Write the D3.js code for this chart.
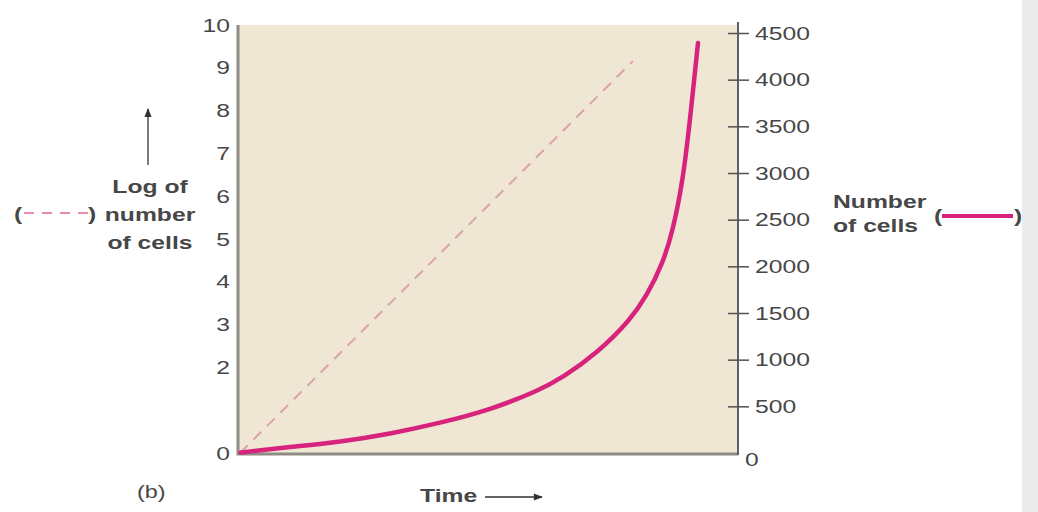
<!DOCTYPE html>
<html>
<head>
<meta charset="utf-8">
<script src="https://cdn.jsdelivr.net/npm/d3@7"></script>
<style>
  body { margin: 0; background: #fff; }
  text { font-family: "Liberation Sans", Arial, sans-serif; fill: #474747; }
</style>
</head>
<body>
<script>
// left axis ticks (log of number of cells) - "1" is not labelled in the figure
var logTicks = [0, 2, 3, 4, 5, 6, 7, 8, 9, 10];
// right axis ticks (number of cells)
var countTicks = [0, 500, 1000, 1500, 2000, 2500, 3000, 3500, 4000, 4500];

// dashed line: log of number of cells vs time
var logTime = [0.04, 7.9];
var logValue = [0, 9.16];

// solid curve: number of cells vs time
var countTime = [0.05, 1.04, 2.04, 3.04, 4.04, 5.04, 6.04, 6.5, 7.18, 7.84, 8.18, 8.5, 8.7, 8.9, 9.04, 9.2];
var countValue = [5, 64, 118, 204, 321, 461, 675, 810, 1070, 1420, 1690, 2036, 2389, 2925, 3568, 4393];

var W = 1038, H = 512;
var plotL = 238, plotR = 738, plotT = 25, plotB = 453;
var SX = 1.3; // the figure's lettering is stretched sideways

var svg = d3.select("body").append("svg")
    .attr("width", W)
    .attr("height", H);

// grey strip on the right edge
svg.append("rect")
    .attr("x", 1022).attr("y", 0)
    .attr("width", 16).attr("height", H)
    .attr("fill", "#ebebeb");

var x = d3.scaleLinear().domain([0, 10]).range([plotL, plotR]);
var yLog = d3.scaleLinear().domain([0, 10]).range([plotB, plotT]);
var yCount = d3.scaleLinear().domain([0, 4500]).range([plotB, 33]);

// helper for stretched text
function label(x0, y0, str, anchor, bold, size) {
    return svg.append("text")
        .attr("transform", "translate(" + x0 + "," + y0 + ") scale(" + SX + ",1)")
        .attr("text-anchor", anchor || "start")
        .style("font-size", (size || 19) + "px")
        .style("font-weight", bold ? "bold" : "normal")
        .text(str);
}

// plot background
svg.append("rect")
    .attr("x", plotL).attr("y", plotT)
    .attr("width", plotR - plotL).attr("height", plotB - plotT)
    .attr("fill", "#efe7d4");

// left and bottom frame
svg.append("path")
    .attr("d", "M" + plotL + "," + plotT + "V" + (plotB + 1) + "H" + plotR)
    .attr("fill", "none")
    .attr("stroke", "#8e8c84")
    .attr("stroke-width", 3);

// left axis labels
var leftAxis = d3.axisLeft(yLog).tickValues(logTicks).tickSize(0);
var gl = svg.append("g").attr("transform", "translate(" + plotL + ",0)").call(leftAxis);
gl.select(".domain").remove();
gl.selectAll("text")
    .attr("x", 0)
    .attr("transform", "translate(-8,0) scale(" + SX + ",1)")
    .attr("fill", "#474747")
    .style("font-size", "19px")
    .style("font-family", "Liberation Sans, Arial, sans-serif");

// right axis
var rightAxis = d3.axisRight(yCount).tickValues(countTicks).tickSize(0).tickFormat(d3.format("d"));
var gr = svg.append("g").attr("transform", "translate(" + plotR + ",0)").call(rightAxis);
gr.select(".domain").remove();
gr.selectAll("text")
    .attr("x", 0)
    .attr("transform", "translate(17,0) scale(" + SX + ",1)")
    .attr("fill", "#474747")
    .style("font-size", "19px")
    .style("font-family", "Liberation Sans, Arial, sans-serif");
gr.selectAll(".tick").filter(function(d){ return d === 0; })
    .select("text").attr("dy", "0.65em")
    .attr("transform", "translate(7,0) scale(" + SX + ",1)");
gr.append("line")
    .attr("x1", 0).attr("x2", 0)
    .attr("y1", plotT - 3).attr("y2", plotB + 2)
    .attr("stroke", "#505050").attr("stroke-width", 1.8);
gr.selectAll(".tick").filter(function(d){ return d > 0; })
    .append("line")
    .attr("x1", -10).attr("x2", 11)
    .attr("stroke", "#505050").attr("stroke-width", 1.5);

// dashed log line
var logData = logTime.map(function(t, i){ return [t, logValue[i]]; });
svg.append("path")
    .datum(logData)
    .attr("d", d3.line().x(function(d){ return x(d[0]); }).y(function(d){ return yLog(d[1]); }))
    .attr("fill", "none")
    .attr("stroke", "#d9a4a2")
    .attr("stroke-width", 2)
    .attr("stroke-dasharray", "11,8");

// solid count curve
var countData = countTime.map(function(t, i){ return [t, countValue[i]]; });
svg.append("path")
    .datum(countData)
    .attr("d", d3.line().curve(d3.curveBasis)
        .x(function(d){ return x(d[0]); }).y(function(d){ return yCount(d[1]); }))
    .attr("fill", "none")
    .attr("stroke", "#d8237d")
    .attr("stroke-width", 4.5)
    .attr("stroke-linecap", "round");

// arrow marker
svg.append("defs").append("marker")
    .attr("id", "arr")
    .attr("viewBox", "0 0 10 10")
    .attr("refX", 9).attr("refY", 5)
    .attr("markerWidth", 10).attr("markerHeight", 9)
    .attr("markerUnits", "userSpaceOnUse")
    .attr("orient", "auto")
    .append("path")
    .attr("d", "M0,1L10,5L0,9Z")
    .attr("fill", "#333");

// left title
svg.append("line")
    .attr("x1", 148).attr("y1", 165).attr("x2", 148).attr("y2", 109)
    .attr("stroke", "#333").attr("stroke-width", 1.3)
    .attr("marker-end", "url(#arr)");
label(150, 193, "Log of", "middle", true);
label(150, 221, "number", "middle", true);
label(150, 249, "of cells", "middle", true);

label(14, 220, "(", "start", true);
svg.append("line")
    .attr("x1", 24).attr("x2", 88).attr("y1", 213).attr("y2", 213)
    .attr("stroke", "#e58cb4").attr("stroke-width", 2)
    .attr("stroke-dasharray", "10,8");
label(88, 220, ")", "start", true);

// right title
label(833, 208, "Number", "start", true);
label(833, 232, "of cells", "start", true);
label(934, 222, "(", "start", true);
svg.append("line")
    .attr("x1", 942).attr("x2", 1013).attr("y1", 216).attr("y2", 216)
    .attr("stroke", "#d8237d").attr("stroke-width", 4);
label(1014, 222, ")", "start", true);

// bottom labels
label(137, 498, "(b)", "start", false, 18);
label(420, 502, "Time", "start", true);
svg.append("line")
    .attr("x1", 485).attr("y1", 497).attr("x2", 542).attr("y2", 497)
    .attr("stroke", "#333").attr("stroke-width", 1.3)
    .attr("marker-end", "url(#arr)");
</script>
</body>
</html>
